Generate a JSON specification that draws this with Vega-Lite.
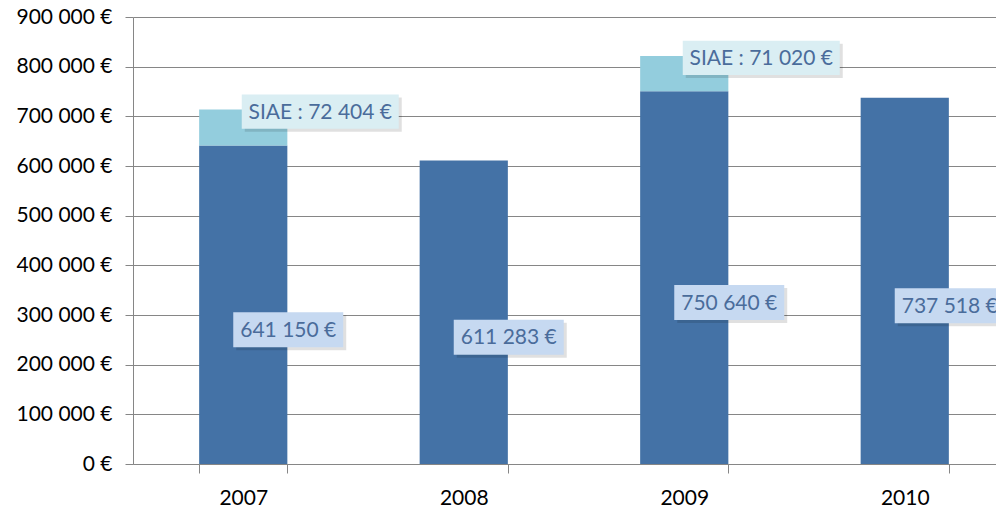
{
  "$schema": "https://vega.github.io/schema/vega-lite/v6.json",
  "width": 882,
  "height": 447,
  "autosize": "none",
  "padding": {"left": 133, "top": 17, "right": 0, "bottom": 48},
  "background": "white",
  "config": {
    "locale": {"number": {"decimal": ",", "thousands": "\u00a0", "grouping": [3], "currency": ["", "\u00a0€"]}},
    "view": {"stroke": null},
    "font": "Lato"
  },
  "data": {"values": [
    {"year": "2007", "part": "Recettes", "value": 641150},
    {"year": "2007", "part": "SIAE", "value": 72404},
    {"year": "2008", "part": "Recettes", "value": 611283},
    {"year": "2009", "part": "Recettes", "value": 750640},
    {"year": "2009", "part": "SIAE", "value": 71020},
    {"year": "2010", "part": "Recettes", "value": 737518}
  ]},
  "transform": [
    {"joinaggregate": [{"op": "sum", "field": "value", "as": "total"}], "groupby": ["year"]}
  ],
  "encoding": {
    "x": {
      "field": "year", "type": "nominal",
      "scale": {"paddingInner": 0.6, "paddingOuter": 0.3},
      "axis": {
        "title": null, "labelAngle": 0, "labelFontSize": 21, "labelColor": "#000000",
        "labelPadding": 14, "domainColor": "#868686", "tickColor": "#868686",
        "tickSize": 9, "tickBand": "extent", "grid": false
      }
    }
  },
  "layer": [
    {
      "mark": {"type": "bar"},
      "encoding": {
        "y": {
          "field": "value", "type": "quantitative", "stack": "zero",
          "scale": {"domain": [0, 900000], "nice": false},
          "axis": {
            "title": null, "values": [0, 100000, 200000, 300000, 400000, 500000, 600000, 700000, 800000, 900000],
            "format": "$,.0f", "labelFontSize": 21, "labelColor": "#000000", "labelPadding": 13,
            "domainColor": "#868686", "tickColor": "#868686", "tickSize": 8,
            "gridColor": "#868686", "gridWidth": 1
          }
        },
        "color": {
          "field": "part", "type": "nominal",
          "scale": {"domain": ["Recettes", "SIAE"], "range": ["#4472A6", "#93CDDD"]},
          "legend": null
        },
        "order": {"field": "part", "sort": "ascending"}
      }
    },
    {
      "transform": [{"filter": "datum.part === 'Recettes'"}],
      "mark": {"type": "point", "shape": "M-1,-0.318H1V0.318H-1Z", "size": 12100, "filled": true, "fill": "#000000", "opacity": 0.12, "strokeWidth": 0, "xOffset": 48, "yOffset": 28},
      "encoding": {
        "y": {"field": "value", "type": "quantitative", "scale": {"domain": [0, 1800000], "nice": false}, "axis": null}
      }
    },
    {
      "transform": [{"filter": "datum.part === 'Recettes'"}],
      "mark": {"type": "point", "shape": "M-1,-0.318H1V0.318H-1Z", "size": 12100, "filled": true, "fill": "#C6D9F1", "opacity": 1, "strokeWidth": 0, "xOffset": 45, "yOffset": 25},
      "encoding": {
        "y": {"field": "value", "type": "quantitative", "scale": {"domain": [0, 1800000], "nice": false}, "axis": null}
      }
    },
    {
      "transform": [{"filter": "datum.part === 'Recettes'"}],
      "mark": {"type": "text", "fontSize": 21, "color": "#4A6C9B", "dx": 45, "dy": 26, "baseline": "middle", "align": "center"},
      "encoding": {
        "y": {"field": "value", "type": "quantitative", "scale": {"domain": [0, 1800000], "nice": false}, "axis": null},
        "text": {"field": "value", "type": "quantitative", "format": "$,.0f"}
      }
    },
    {
      "transform": [{"filter": "datum.part === 'SIAE'"}],
      "mark": {"type": "point", "shape": "M-1,-0.217H1V0.217H-1Z", "size": 24649, "filled": true, "fill": "#000000", "opacity": 0.12, "strokeWidth": 0, "xOffset": 80, "yOffset": 5},
      "encoding": {
        "y": {"field": "total", "type": "quantitative", "scale": {"domain": [0, 900000], "nice": false}, "axis": null}
      }
    },
    {
      "transform": [{"filter": "datum.part === 'SIAE'"}],
      "mark": {"type": "point", "shape": "M-1,-0.217H1V0.217H-1Z", "size": 24649, "filled": true, "fill": "#DAEEF3", "opacity": 1, "strokeWidth": 0, "xOffset": 77, "yOffset": 2},
      "encoding": {
        "y": {"field": "total", "type": "quantitative", "scale": {"domain": [0, 900000], "nice": false}, "axis": null}
      }
    },
    {
      "transform": [
        {"filter": "datum.part === 'SIAE'"},
        {"calculate": "'SIAE : ' + format(datum.value, '$,.0f')", "as": "label"}
      ],
      "mark": {"type": "text", "fontSize": 21, "color": "#4A6C9B", "dx": 77, "dy": 3, "baseline": "middle", "align": "center"},
      "encoding": {
        "y": {"field": "total", "type": "quantitative", "scale": {"domain": [0, 900000], "nice": false}, "axis": null},
        "text": {"field": "label", "type": "nominal"}
      }
    }
  ],
  "resolve": {"scale": {"y": "independent"}}
}
